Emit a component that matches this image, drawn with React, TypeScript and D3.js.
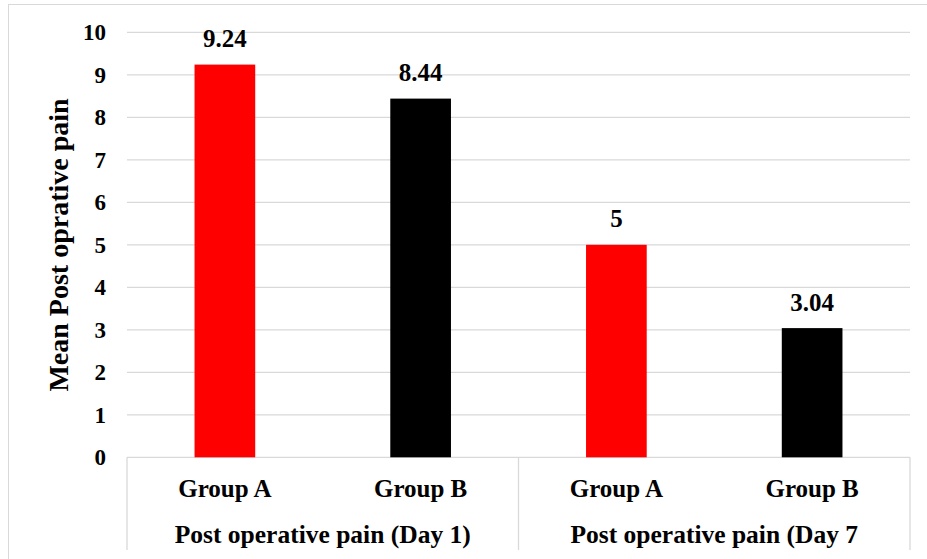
import React from "react";
import * as d3 from "d3";

const groups = ["Post operative pain (Day 1)", "Post operative pain (Day 7"];
const categories = ["Group A", "Group B", "Group A", "Group B"];
const groupIndex = [0, 0, 1, 1];
const values = [9.24, 8.44, 5, 3.04];
const valueLabels = ["9.24", "8.44", "5", "3.04"];
const colors = ["#ff0000", "#000000", "#ff0000", "#000000"];
const yTicks = [0, 1, 2, 3, 4, 5, 6, 7, 8, 9, 10];
const yTitle = "Mean Post oprative pain";

export default function App() {
  const W = 927, H = 559;
  const left = 127, right = 910, top = 32.3, bottom = 457.3;
  const font = "'Liberation Serif', 'Times New Roman', serif";
  const grid = "#d9d9d9";

  const x = d3
    .scaleBand<number>()
    .domain(d3.range(categories.length))
    .range([left, right])
    .paddingInner(0.69)
    .paddingOuter(0.345);
  const y = d3.scaleLinear().domain([0, 10]).range([bottom, top]);

  const groupBounds = groups.map((_, g) => {
    const idx = d3.range(categories.length).filter((i) => groupIndex[i] === g);
    const step = x.step();
    const x0 = left + idx[0] * step;
    const x1 = left + (idx[idx.length - 1] + 1) * step;
    return [x0, x1];
  });
  const seps = [left, ...groupBounds.map((b) => b[1])];

  return (
    <svg
      width={W}
      height={H}
      style={{ position: "absolute", left: 0, top: 0, background: "#fff" }}
      fontFamily={font}
      fontWeight="bold"
    >
      <rect x={8.5} y={4.5} width={940} height={600} fill="#fff" stroke={grid} strokeWidth={1} />
      {yTicks.map((t) => (
        <g key={t}>
          {t > 0 && (
            <line x1={left} x2={right} y1={y(t)} y2={y(t)} stroke={grid} strokeWidth={1.3} />
          )}
          <text x={106} y={y(t)} dy="0.34em" textAnchor="end" fontSize={23} fill="#000">
            {t}
          </text>
        </g>
      ))}
      <line x1={left} x2={right} y1={bottom} y2={bottom} stroke={grid} strokeWidth={1.3} />
      {seps.map((s, i) => (
        <line key={i} x1={s} x2={s} y1={bottom} y2={550} stroke={grid} strokeWidth={1.3} />
      ))}
      {values.map((v, i) => (
        <g key={i}>
          <rect
            x={x(i)!}
            y={y(v)}
            width={x.bandwidth()}
            height={y(0) - y(v)}
            fill={colors[i]}
          />
          <text
            x={x(i)! + x.bandwidth() / 2}
            y={y(v) - 17.5}
            textAnchor="middle"
            fontSize={25}
            fill="#000"
          >
            {valueLabels[i]}
          </text>
          <text
            x={x(i)! + x.bandwidth() / 2}
            y={496.7}
            textAnchor="middle"
            fontSize={25}
            fill="#000"
          >
            {categories[i]}
          </text>
        </g>
      ))}
      {groups.map((g, i) => (
        <text
          key={i}
          x={(groupBounds[i][0] + groupBounds[i][1]) / 2}
          y={542.7}
          textAnchor="middle"
          fontSize={25.5}
          fill="#000"
        >
          {g}
        </text>
      ))}
      <text
        transform={`translate(68,245) rotate(-90)`}
        textAnchor="middle"
        fontSize={28}
        fill="#000"
      >
        {yTitle}
      </text>
    </svg>
  );
}
